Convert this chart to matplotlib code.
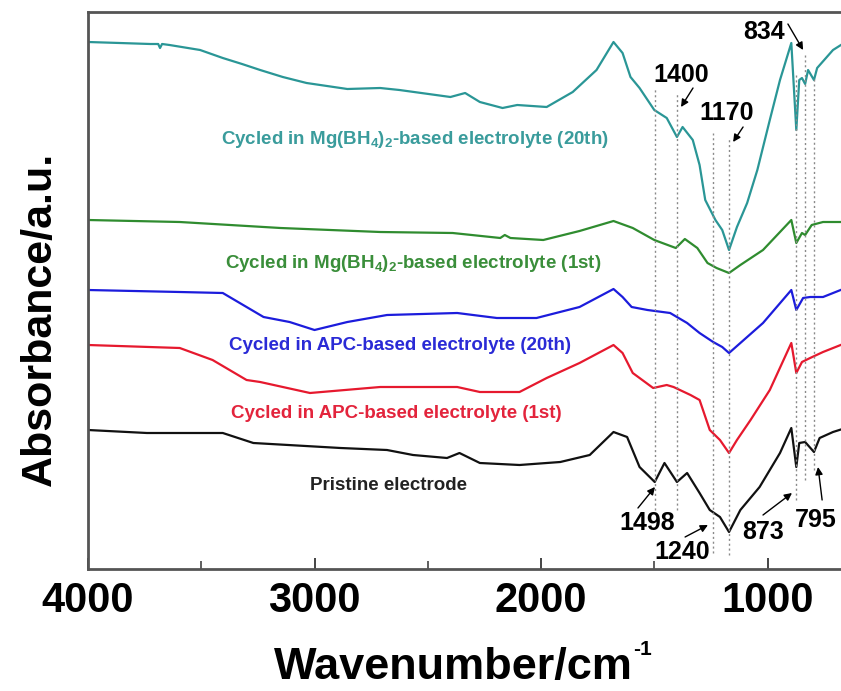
import matplotlib
matplotlib.use('Agg')
import matplotlib.pyplot as plt
from matplotlib.ticker import MultipleLocator

plt.rcParams['font.family'] = ['Liberation Sans', 'DejaVu Sans']
plt.rcParams['font.weight'] = 'bold'
plt.rcParams['mathtext.fontset'] = 'custom'
plt.rcParams['mathtext.rm'] = 'Liberation Sans:bold'
plt.rcParams['mathtext.it'] = 'Liberation Sans:bold'
plt.rcParams['mathtext.bf'] = 'Liberation Sans:bold'

# FTIR spectra (wavenumber in cm-1, absorbance in a.u., offset per sample)
wn_teal = [4000, 3860, 3725, 3690, 3682, 3673, 3640, 3505, 3405, 3320, 3240, 3140, 3035, 2855, 2710, 2625,
           2400, 2335, 2270, 2170, 2105, 1975, 1860, 1755, 1680, 1640, 1605, 1565, 1500, 1445, 1400, 1375,
           1330, 1300, 1275, 1230, 1200, 1170, 1135, 1090, 1045, 990, 945, 895, 873, 860, 848, 834, 821,
           795, 781, 711, 655]
ab_teal = [5.27, 5.26, 5.25, 5.25, 5.21, 5.25, 5.24, 5.19, 5.11, 5.05, 4.99, 4.92, 4.86, 4.80, 4.81, 4.79,
           4.72, 4.76, 4.67, 4.61, 4.64, 4.62, 4.77, 4.99, 5.27, 5.16, 4.92, 4.81, 4.59, 4.51, 4.32, 4.42,
           4.29, 4.04, 3.69, 3.49, 3.39, 3.19, 3.42, 3.66, 3.99, 4.49, 4.89, 5.26, 4.39, 4.89, 4.91, 4.85,
           4.99, 4.89, 5.01, 5.19, 5.27]

wn_green = [4000, 3595, 3150, 2710, 2390, 2180, 2160, 2135, 1990, 1830, 1680, 1595, 1500, 1405, 1365, 1310,
            1265, 1225, 1170, 1120, 1020, 895, 873, 848, 834, 805, 755, 655]
ab_green = [3.49, 3.47, 3.41, 3.37, 3.36, 3.31, 3.34, 3.31, 3.29, 3.38, 3.48, 3.41, 3.29, 3.21, 3.30, 3.21,
            3.06, 3.01, 2.96, 3.04, 3.19, 3.49, 3.26, 3.36, 3.34, 3.44, 3.47, 3.47]

wn_blue = [4000, 3595, 3405, 3225, 3110, 3000, 2855, 2680, 2370, 2195, 2020, 1830, 1680, 1640, 1600, 1530,
           1430, 1355, 1300, 1240, 1200, 1170, 1120, 1020, 895, 873, 843, 812, 755, 655]
ab_blue = [2.79, 2.77, 2.76, 2.52, 2.47, 2.39, 2.47, 2.54, 2.56, 2.51, 2.51, 2.62, 2.80, 2.72, 2.62, 2.59,
           2.56, 2.46, 2.36, 2.27, 2.22, 2.16, 2.26, 2.46, 2.79, 2.59, 2.71, 2.72, 2.72, 2.81]

wn_red = [4000, 3595, 3450, 3300, 3240, 3020, 2710, 2370, 2270, 2095, 1975, 1830, 1680, 1640, 1595, 1505,
          1445, 1415, 1340, 1300, 1255, 1210, 1170, 1135, 1075, 990, 895, 873, 848, 812, 755, 655]
ab_red = [2.24, 2.21, 2.09, 1.89, 1.87, 1.76, 1.82, 1.82, 1.77, 1.77, 1.91, 2.06, 2.24, 2.16, 1.96, 1.81,
          1.84, 1.82, 1.74, 1.69, 1.39, 1.29, 1.16, 1.29, 1.49, 1.79, 2.26, 1.96, 2.07, 2.11, 2.17, 2.26]

wn_black = [4000, 3740, 3405, 3270, 2885, 2680, 2565, 2415, 2360, 2315, 2270, 2095, 1915, 1785, 1680, 1620,
            1565, 1498, 1455, 1400, 1355, 1300, 1255, 1210, 1170, 1120, 1035, 945, 895, 873, 860, 834, 795,
            770, 711, 655]
ab_black = [1.39, 1.36, 1.36, 1.26, 1.21, 1.19, 1.14, 1.11, 1.16, 1.11, 1.06, 1.04, 1.07, 1.14, 1.37, 1.32,
            1.02, 0.87, 1.06, 0.87, 0.96, 0.76, 0.59, 0.52, 0.37, 0.59, 0.82, 1.16, 1.41, 1.02, 1.26, 1.27, 1.17,
            1.31, 1.37, 1.41]

labels = ['Cycled in Mg(BH$_4$)$_2$-based electrolyte (20th)',
          'Cycled in Mg(BH$_4$)$_2$-based electrolyte (1st)',
          'Cycled in APC-based electrolyte (20th)',
          'Cycled in APC-based electrolyte (1st)',
          'Pristine electrode']

# marked bands
peaks = [1498, 1400, 1240, 1170, 873, 834, 795]

colors = ['#2a9696', '#2f8c2f', '#1c1cdc', '#e6192e', '#111111']
label_colors = ['#3a9c9c', '#3a8e3a', '#2a2ad6', '#e3243c', '#222222']

fig = plt.figure(figsize=(8.41, 6.91), dpi=100)
ax = fig.add_axes([88 / 841, 122 / 691, 757 / 841, 557 / 691])

series = [(wn_teal, ab_teal), (wn_green, ab_green), (wn_blue, ab_blue), (wn_red, ab_red), (wn_black, ab_black)]
for (x, y), c in zip(series, colors):
    ax.plot(x, y, color=c, lw=1.6)

# dotted guide lines for the bands
line_span = {1498: (0.59, 4.81), 1400: (0.59, 4.76), 1240: (0.16, 4.36), 1170: (0.14, 4.32),
             873: (0.69, 4.94), 834: (0.89, 5.16), 795: (0.99, 4.91)}
for p in peaks:
    lo, hi = line_span[p]
    ax.vlines(p, lo, hi, colors='#8a8a8a', linestyles=(0, (1.5, 2)), lw=1)

# series names
label_pos = [(2556, 4.29), (2565, 3.06), (2623, 2.24), (2640, 1.56), (2675, 0.84)]
for txt, (x, y), c in zip(labels, label_pos, label_colors):
    ax.text(x, y, txt, color=c, fontsize=13.5, fontweight='bold', ha='center', va='center')

# band labels with arrows: text position, arrow tail, arrow head
band_marks = {834: ((1015, 5.37), (910, 5.45), (843, 5.19)),
              1400: ((1382, 4.94), (1329, 4.81), (1382, 4.62)),
              1170: ((1179, 4.56), (1108, 4.42), (1152, 4.27)),
              1498: ((1532, 0.46), (1572, 0.61), (1497, 0.82)),
              1240: ((1377, 0.17), (1364, 0.32), (1263, 0.44)),
              873: ((1020, 0.37), (1020, 0.54), (892, 0.76)),
              795: ((786, 0.49), (759, 0.69), (777, 1.02))}
for p in peaks:
    tpos, tail, head = band_marks[p]
    ax.text(tpos[0], tpos[1], str(p), fontsize=18, fontweight='bold', ha='center', va='center')
    ax.annotate('', xy=head, xytext=tail,
                arrowprops=dict(arrowstyle='-|>', color='black', lw=1, mutation_scale=11,
                                shrinkA=0, shrinkB=0))

ax.set_xlim(4000, 658)
ax.set_ylim(0, 5.57)
ax.xaxis.set_major_locator(MultipleLocator(1000))
ax.xaxis.set_minor_locator(MultipleLocator(500))
ax.tick_params(axis='x', which='major', direction='in', length=8, width=1.4, color='#444444',
               labelsize=30, pad=9)
ax.tick_params(axis='x', which='minor', direction='in', length=6, width=1.2, color='#444444')
ax.set_yticks([])
for s in ax.spines.values():
    s.set_linewidth(2)
    s.set_color('#555555')
for lab in ax.get_xticklabels():
    lab.set_fontweight('bold')

# axis titles
fig.text(453 / 841, 1 - 679 / 691, 'Wavenumber/cm', fontsize=32.5, fontweight='bold',
         ha='center', va='baseline')
fig.text(633 / 841, 1 - 655 / 691, '-1', fontsize=15, fontweight='bold',
         ha='left', va='baseline')
fig.text(40 / 841, 1 - 319 / 691, 'Absorbance/a.u.', fontsize=31, fontweight='bold',
         ha='center', va='center', rotation=90)

fig.savefig('out.png', dpi=100)
